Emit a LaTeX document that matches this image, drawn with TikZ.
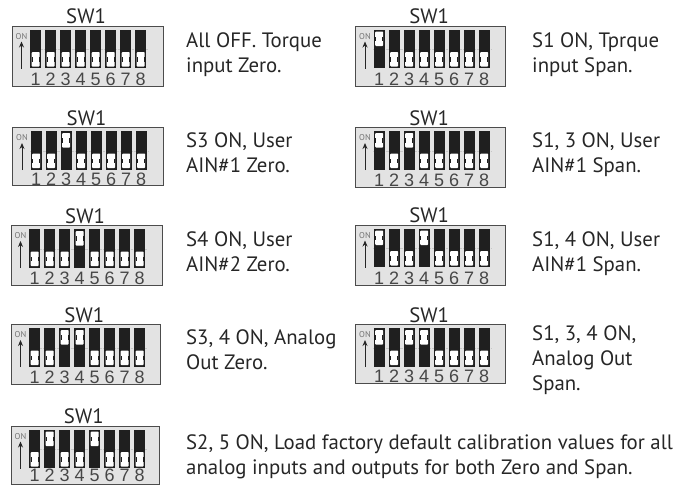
\documentclass[tikz,border=0pt]{standalone}
\usepackage{fontspec}
\setmainfont{PT Sans}
\newfontfamily\digitfont{Liberation Sans}
\usetikzlibrary{arrows.meta, positioning}

% one switch block: name, left, top, box options, digit row, states of the eight levers
\newcommand{\dipswitch}[6]{
  \node[dipbox, #4] (#1) at (#2,#3) {};
  \node[swlabel, above=1.5pt of #1, xshift=-1.5pt] (#1-label) {SW1};
  \begin{scope}[shift={(#2,#3)}]
    \draw[gray!45, densely dotted] (18,24) -- (136,24);
    \node[ontext] (#1-on) at (10,11) {ON};
    \coordinate (#1-tail) at (10,43);
    \coordinate (#1-head) at (10,16);
    \draw[onarrow] (#1-tail) -- (#1-head);
    \foreach \state [count=\i] in {#6} {
      \pgfmathsetmacro{\tabx}{18.5+15*(\i-1)}
      \pgfmathsetmacro{\winy}{\state==1 ? 6 : 26.5}
      \fill[tabfill] (\tabx,4) rectangle ++(11.4,38.5);
      \fill[white, rounded corners=0.8pt] (\tabx+1.7,\winy) rectangle ++(8,14.5);
      \fill[tabfill] (\tabx+1.7,\winy+5) rectangle ++(1.1,4.5);
      \fill[tabfill] (\tabx+8.6,\winy+5) rectangle ++(1.1,4.5);
      \node[digit] (#1-n\i) at (\tabx+5.7,#5) {\i};
    }
  \end{scope}
}

\begin{document}
\begin{tikzpicture}[
    x=1pt, y=-1pt,
    dipbox/.style={rectangle, draw=black!70, line width=1.1pt, fill=black!11,
      anchor=north west, minimum width=150pt, minimum height=60pt, inner sep=0pt},
    swlabel/.style={font=\fontsize{20.8}{20.8}\selectfont, text=black!85, inner sep=0pt,
      text height=14pt, text depth=0pt},
    ontext/.style={font=\fontsize{8.5}{8.5}\selectfont, text=black!55, inner sep=0pt},
    onarrow/.style={-{Stealth[length=6pt,width=5pt]}, line width=0.9pt, black!85},
    digit/.style={font=\digitfont\fontsize{18}{18}\selectfont, text=black!72, inner sep=0pt},
    tabfill/.style={fill=black!88},
    note/.style={font=\fontsize{20.8}{25}\selectfont, text=black!85, align=left,
      anchor=north west, inner sep=0pt}
  ]
    \useasboundingbox (0,0) rectangle (676,485);
    \dipswitch{swzero}{11.5}{25.5}{minimum width=151pt}{53.5}{0,0,0,0,0,0,0,0}
    \dipswitch{swspan}{355}{25.5}{}{53.5}{1,0,0,0,0,0,0,0}
    \dipswitch{swainz}{12}{127}{minimum width=151pt, minimum height=58pt}{52}{0,0,1,0,0,0,0,0}
    \dipswitch{swains}{355}{127}{}{53.5}{1,0,1,0,0,0,0,0}
    \dipswitch{swbinz}{10.5}{225}{minimum width=151pt}{53.5}{0,0,0,1,0,0,0,0}
    \dipswitch{swbins}{355}{224.5}{}{53.5}{1,0,0,1,0,0,0,0}
    \dipswitch{swoutz}{10.5}{324}{minimum width=149.5pt}{53}{0,0,1,1,0,0,0,0}
    \dipswitch{swouts}{355}{324}{minimum height=59pt}{52.5}{1,0,1,1,0,0,0,0}
    \dipswitch{swdef}{10.5}{425.5}{minimum width=148.5pt, minimum height=58pt}{50}{0,1,0,0,1,0,0,0}

    \node[note] (tzero) at (186,32.5) {All OFF. Torque\\input Zero.};
    \node[note] (tspan) at (532,32.5) {S1 ON, Tprque\\input Span.};
    \node[note] (tainz) at (186,132.5) {S3 ON, User\\AIN\#1 Zero.};
    \node[note] (tains) at (532,132.5) {S1, 3 ON, User\\AIN\#1 Span.};
    \node[note] (tbinz) at (186,231.5) {S4 ON, User\\AIN\#2 Zero.};
    \node[note] (tbins) at (532,231.5) {S1, 4 ON, User\\AIN\#1 Span.};
    \node[note] (toutz) at (186,329.5) {S3, 4 ON, Analog\\Out Zero.};
    \node[note] (touts) at (532,325.5) {S1, 3, 4 ON,\\Analog Out\\Span.};
    \node[note] (tdef) at (186,434) {S2, 5 ON, Load factory default calibration values for all\\analog inputs and outputs for both Zero and Span.};
  \end{tikzpicture}
\end{document}
